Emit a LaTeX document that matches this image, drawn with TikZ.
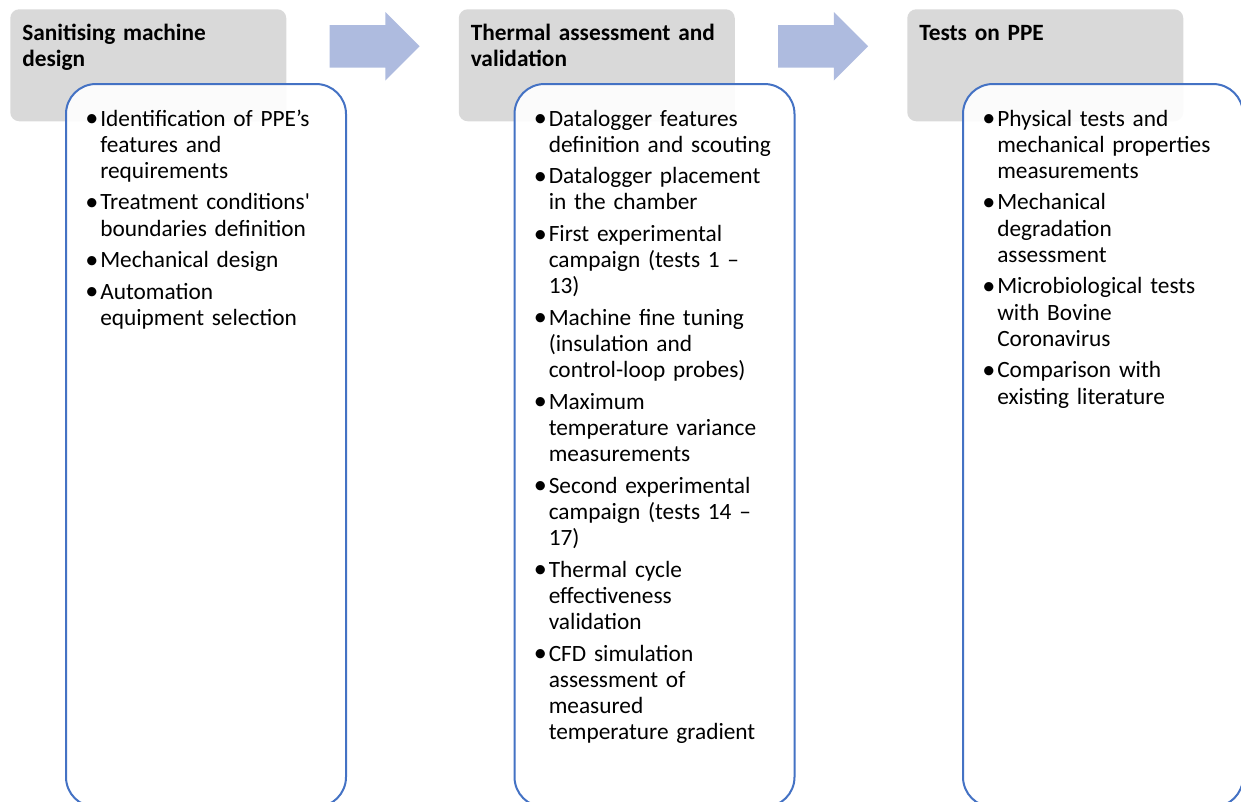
\documentclass[tikz,border=0pt]{standalone}
\usepackage{graphicx}
\usepackage{fontspec}
\setmainfont{Carlito}
\usetikzlibrary{shapes.arrows,calc}

\definecolor{phasegray}{HTML}{D9D9D9}
\definecolor{arrowblue}{HTML}{AEBBDF}
\definecolor{boxblue}{HTML}{4472C4}

% one bullet point, hanging indent
\newcommand\bitem[1]{\hangindent=9pt\hangafter=1\noindent\makebox[9pt][l]{\hspace{-2.2pt}\raisebox{-0.4pt}{\scalebox{1.12}{\textbullet}}}#1\par\vspace{4pt}}

\begin{document}
\begin{tikzpicture}[x=0.75pt, y=-0.75pt]
	\tikzstyle{phase} = [ fill=phasegray, rounded corners=6.75pt, inner sep=0, minimum width=207pt, minimum height=84pt, anchor=north west];
	\tikzstyle{steps} = [ draw=boxblue, line width=1.5pt, fill=white, fill opacity=0.9, text opacity=1, rounded corners=22.5pt, inner sep=0, minimum width=210pt, minimum height=542.25pt, anchor=north west];
	\tikzstyle{phasetext} = [ inner sep=0, anchor=base west, text width=190pt, align=left, font={\fontsize{17.5}{19.65}\selectfont\bfseries}];
	\tikzstyle{steptext} = [ inner sep=0, anchor=base west, text width=195pt, align=left, font={\fontsize{17.5}{19.65}\selectfont\parskip=0pt}];
	\tikzstyle{flow} = [ single arrow, fill=arrowblue, inner xsep=0, inner ysep=15.75pt, minimum height=67.5pt, single arrow head extend=9.75pt];

	\useasboundingbox (0,0) rectangle (1241,801);
	\clip (0,0) rectangle (1241,801);

	\foreach \head [count=\i] in {{Sanitising machine\\design}, {Thermal assessment and\\validation}, {Tests on PPE}} {
		\pgfmathsetmacro{\xo}{(\i-1)*448.5}
		\node[phase] (phase\i) at (\xo+10, 9) {};
		\node[phasetext] (head\i) at ([shift={(12,31)}]phase\i.north west) {\head};
	}

	\foreach \i [count=\j from 2] in {1,2} {
		\node[flow] (flow\i) at ($(phase\i.east)!0.5!(phase\j.west)$) [xshift=-6.4pt, yshift=14.25pt] {};
	}

	\foreach \i in {1,2,3} {
		\pgfmathsetmacro{\xo}{(\i-1)*448.5}
		\node[steps] (steps\i) at (\xo+65, 83) {};
	}

	\node[steptext] (list1) at ([shift={(23,43)}]steps1.north west) {%
		\bitem{Identification of PPE’s\newline features and\newline requirements}
		\bitem{Treatment conditions\textquotesingle\newline boundaries definition}
		\bitem{Mechanical design}
		\bitem{Automation\newline equipment selection}};

	\node[steptext] (list2) at ([shift={(23,43)}]steps2.north west) {%
		\bitem{Datalogger features\newline definition and scouting}
		\bitem{Datalogger placement\newline in the chamber}
		\bitem{First experimental\newline campaign (tests 1 –\newline 13)}
		\bitem{Machine fine tuning\newline (insulation and\newline control-loop probes)}
		\bitem{Maximum\newline temperature variance\newline measurements}
		\bitem{Second experimental\newline campaign (tests 14 –\newline 17)}
		\bitem{Thermal cycle\newline effectiveness\newline validation}
		\bitem{CFD simulation\newline assessment of\newline measured\newline temperature gradient}};

	\node[steptext] (list3) at ([shift={(23,43)}]steps3.north west) {%
		\bitem{Physical tests and\newline mechanical properties\newline measurements}
		\bitem{Mechanical\newline degradation\newline assessment}
		\bitem{Microbiological tests\newline with Bovine\newline Coronavirus}
		\bitem{Comparison with\newline existing literature}};
\end{tikzpicture}
\end{document}
